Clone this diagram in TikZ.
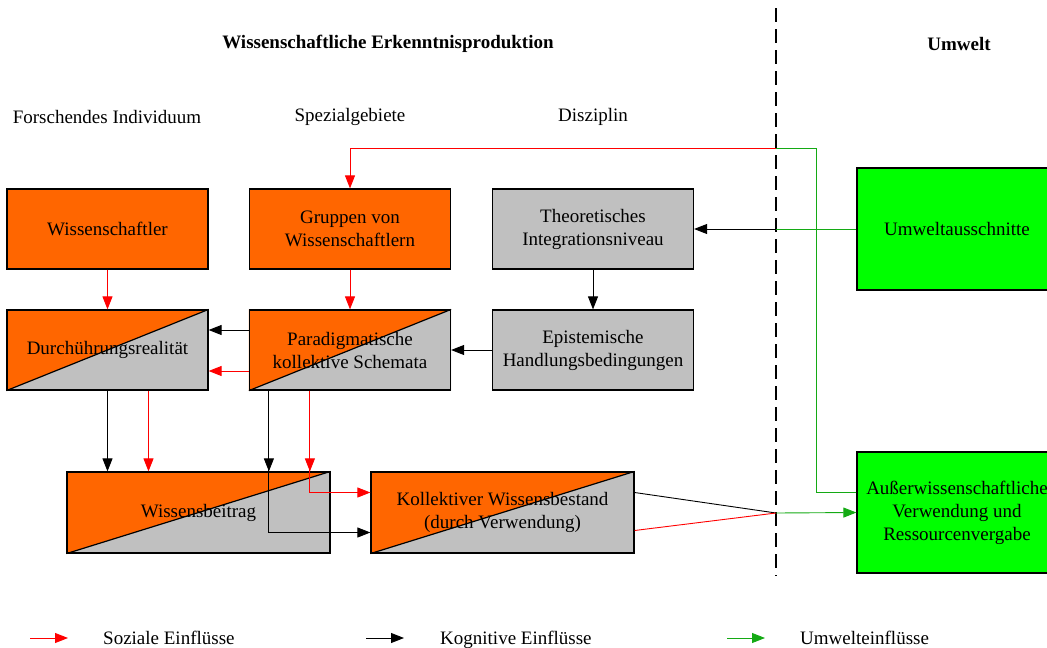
\documentclass[tikz,border=0pt]{standalone}
\usepackage{fontspec}
\setmainfont{Liberation Serif}
\usepackage{tikz}
\usetikzlibrary{arrows.meta,backgrounds}
\definecolor{orng}{RGB}{255,102,0}
\definecolor{gry}{RGB}{192,192,192}
\definecolor{grn}{RGB}{0,255,0}
\definecolor{grnline}{RGB}{20,170,20}

\begin{document}
\begin{tikzpicture}[x=1pt,y=-1pt,font=\fontsize{19}{23}\selectfont,
box/.style={draw, line width=1.2pt, minimum width=201pt, minimum height=80pt, align=center, inner sep=0pt},
orbox/.style={box, fill=orng},
grbox/.style={box, fill=gry},
envbox/.style={box, fill=grn, minimum width=200pt, minimum height=122pt},
head/.style={font=\fontsize{19}{23}\selectfont\bfseries},
tip/.style={-{Triangle[length=13pt,width=10pt]}},
soc/.style={red, line width=0.9pt, tip},
cog/.style={black, line width=0.9pt, tip},
env/.style={grnline, line width=0.9pt, tip},
socline/.style={red, line width=0.9pt},
cogline/.style={black, line width=0.9pt},
envline/.style={grnline, line width=0.9pt},
legtext/.style={anchor=base west, inner sep=0pt},
border/.style={line width=2pt, dash pattern=on 14pt off 7pt}]
\useasboundingbox (0,0) rectangle (1047,648);

% Ueberschriften
\node[head] (h1) at (388,44) {Wissenschaftliche Erkenntnisproduktion};
\node[head] (h2) at (959,44) {Umwelt};
\node (c1) at (107,117) {Forschendes Individuum};
\node (c2) at (350,117) {Spezialgebiete};
\node (c3) at (593,117) {Disziplin};

% Grenze
\coordinate (top) at (776,8);
\coordinate (bot) at (776,576);
\draw[border] (top) -- (bot);

% Kaesten
\node[orbox] (ws) at (107.5,229) {Wissenschaftler};
\node[orbox] (gr) at (350,229) {Gruppen von\\Wissenschaftlern};
\node[grbox] (th) at (593,229) {Theoretisches\\Integrationsniveau};
\node[box] (dr) at (107.5,350) {Durchührungsrealität};
\node[box] (pa) at (350,350) {Paradigmatische\\kollektive Schemata};
\node[grbox] (ep) at (593,350) {Epistemische\\Handlungsbedingungen};
\node[box, minimum width=263pt, minimum height=81pt] (wb) at (198.5,512.5) {Wissensbeitrag};
\node[box, minimum width=263pt, minimum height=81pt] (kw) at (502.5,512.5) {Kollektiver Wissensbestand\\(durch Verwendung)};
\node[envbox] (uw) at (957,229) {Umweltausschnitte};
\node[envbox, minimum height=121pt] (aw) at (957,512.5) {Außerwissenschaftliche\\Verwendung und\\Ressourcenvergabe};

% geteilte Kaesten
\begin{scope}[on background layer]
\foreach \n in {dr,pa,wb,kw} {
  \fill[orng] (\n.south west) -- (\n.north west) -- (\n.north east) -- cycle;
  \fill[gry] (\n.south west) -- (\n.south east) -- (\n.north east) -- cycle;
  \draw[line width=1.2pt] (\n.south west) -- (\n.north east);
}
\end{scope}

% Verbindungen
\coordinate (d1) at (776,148);
\coordinate (d2) at (776,229);
\coordinate (d3) at (776,513);
\coordinate (g1) at (816,148);
\coordinate (p1) at ([xshift=20pt]pa.south west);
\coordinate (p2) at ([xshift=61pt]pa.south west);
\coordinate (r1) at ([xshift=41pt]dr.south);

\draw[soc] (ws.south) -- (dr.north);
\draw[soc] (gr.south) -- (pa.north);
\draw[cog] ([yshift=20pt]pa.west) -- ([yshift=20pt]dr.east);
\draw[soc] ([yshift=-21pt]pa.west) -- ([yshift=-21pt]dr.east);
\draw[cog] (th.south) -- (ep.north);
\draw[cog] (ep.west) -- (pa.east);
\draw[cog] (dr.south) -- (dr.south |- wb.north);
\draw[soc] (r1) -- (r1 |- wb.north);
\draw[cog] (p1) -- (p1 |- wb.north);
\draw[cog] (p1) |- ([yshift=-20pt]kw.west);
\draw[soc] (p2) -- (p2 |- wb.north);
\draw[soc] (p2) |- ([yshift=20pt]kw.west);
\draw[envline] ([yshift=20pt]aw.west) -| (g1) -- (d1);
\draw[soc] (d1) -| (gr.north);
\draw[envline] (uw.west) -- (d2);
\draw[cog] (d2) -- (th.east);
\draw[cogline] ([yshift=20pt]kw.east) -- (d3);
\draw[socline] ([yshift=-18pt]kw.east) -- (d3);
\draw[env] (d3) -- (aw.west);

% Legende
\coordinate (l1) at (30,638);
\coordinate (l2) at (366,638);
\coordinate (l3) at (727,638);
\node[legtext] (t1) at (103,644) {Soziale Einflüsse};
\node[legtext] (t2) at (440,644) {Kognitive Einflüsse};
\node[legtext] (t3) at (800,644) {Umwelteinflüsse};
\draw[soc] (l1) -- ++(38,0);
\draw[cog] (l2) -- ++(38,0);
\draw[env] (l3) -- ++(38,0);
\end{tikzpicture}
\end{document}
